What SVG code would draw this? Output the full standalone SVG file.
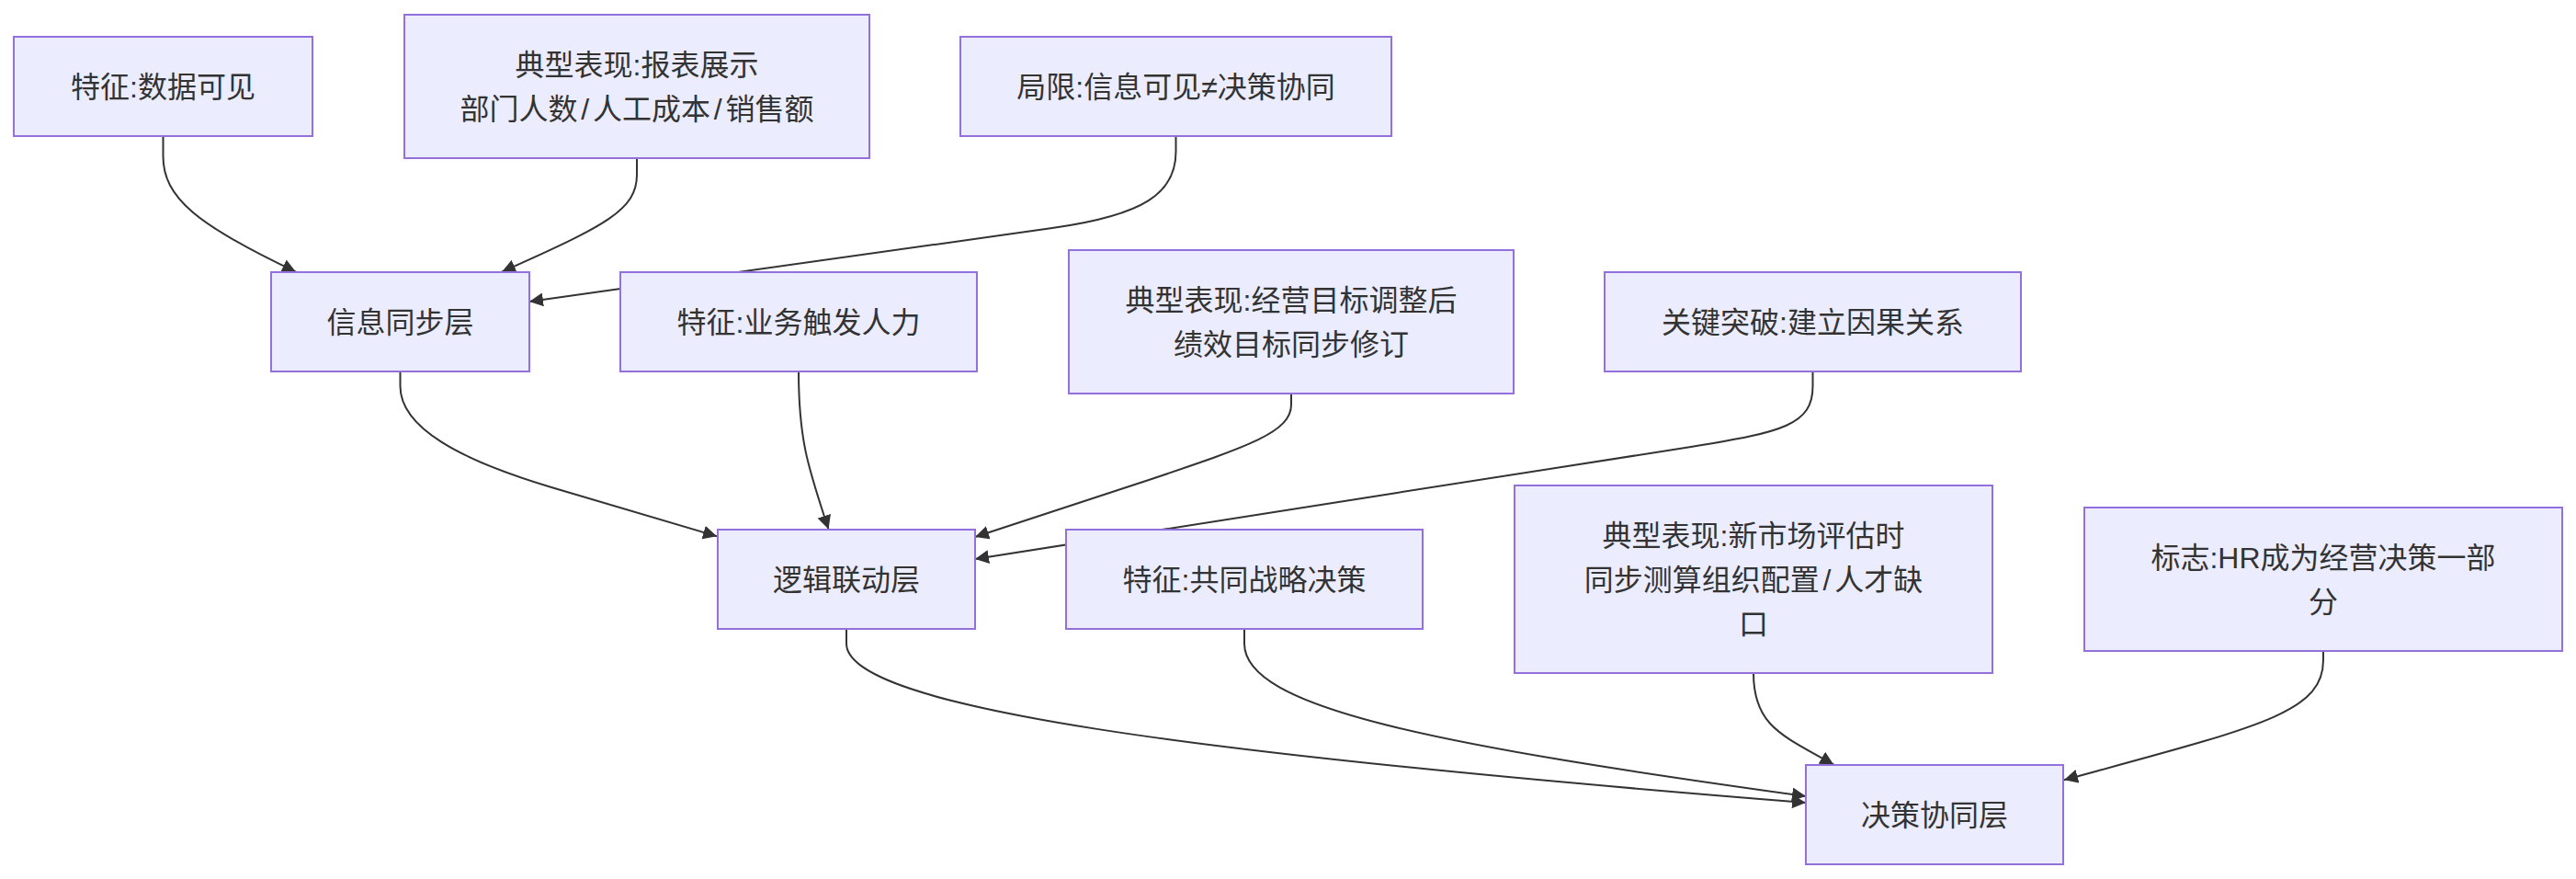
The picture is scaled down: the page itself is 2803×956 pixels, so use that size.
<svg xmlns="http://www.w3.org/2000/svg" width="2803" height="956" viewBox="0 0 2803 956">
<style>
.node rect{fill:#ECECFF;stroke:#9370DB;stroke-width:2}
.node text{font-family:"Liberation Sans","Noto Sans CJK SC",sans-serif;font-size:32px;fill:#333;text-anchor:middle}
.edge{fill:none;stroke:#333;stroke-width:2}
</style>
<defs>
<marker id="arrow" viewBox="0 0 10 10" refX="10" refY="5" markerUnits="userSpaceOnUse" markerWidth="15" markerHeight="15" orient="auto">
<path d="M0,0 L10,5 L0,10 z" fill="#333"/>
</marker>
</defs>
<rect width="2803" height="956" fill="#fff"/>
<g id="connectors">
<path class="edge" marker-end="url(#arrow)" d="M177.5,148 L177.5,170 C177.5,215 215,245 322,295.7"/>
<path class="edge" marker-end="url(#arrow)" d="M693,172 L693,190 C693,228 660,245 546,295.7"/>
<path class="edge" marker-end="url(#arrow)" d="M1279.5,148 L1279.5,165 C1279.5,210 1245,234 1145,248 L576,328"/>
<path class="edge" marker-end="url(#arrow)" d="M435.5,404 L435.5,420 C435.5,465 500,500 600,530 L780,583.3"/>
<path class="edge" marker-end="url(#arrow)" d="M869,404 C869,480 880,510 901.5,575.5"/>
<path class="edge" marker-end="url(#arrow)" d="M1405,428 L1405,440 C1405,470 1360,485 1250,522 L1061,584"/>
<path class="edge" marker-end="url(#arrow)" d="M1972.5,404 L1972.5,420 C1972.5,462 1940,470 1840,486 C1600,524 1200,585 1061,608"/>
<path class="edge" marker-end="url(#arrow)" d="M921,684 L921,700 C921,770 1300,820 1965,873"/>
<path class="edge" marker-end="url(#arrow)" d="M1354,684 L1354,700 C1354,770 1560,810 1965,866"/>
<path class="edge" marker-end="url(#arrow)" d="M1908,732 C1908,790 1940,800 1995.4,831.7"/>
<path class="edge" marker-end="url(#arrow)" d="M2528,708 L2528,718 C2528,775 2460,790 2246,848.3"/>
</g>
<g id="A" class="node"><rect x="15" y="40" width="325" height="108"/><text x="177.5" y="105.5">特征:数据可见</text></g>
<g id="B" class="node"><rect x="440" y="16" width="506" height="156"/><text x="693" y="81.5">典型表现:报表展示</text><text x="693" y="129.5">部门人数<tspan dx="3.8">/</tspan><tspan dx="3.8">人工成本</tspan><tspan dx="3.8">/</tspan><tspan dx="3.8">销售额</tspan></text></g>
<g id="C" class="node"><rect x="1045" y="40" width="469" height="108"/><text x="1279.5" y="105.5">局限:信息可见≠决策协同</text></g>
<g id="D" class="node"><rect x="295" y="296" width="281" height="108"/><text x="435.5" y="361.5">信息同步层</text></g>
<g id="E" class="node"><rect x="675" y="296" width="388" height="108"/><text x="869" y="361.5">特征:业务触发人力</text></g>
<g id="F" class="node"><rect x="1163" y="272" width="484" height="156"/><text x="1405" y="337.5">典型表现:经营目标调整后</text><text x="1405" y="385.5">绩效目标同步修订</text></g>
<g id="G" class="node"><rect x="1746" y="296" width="453" height="108"/><text x="1972.5" y="361.5">关键突破:建立因果关系</text></g>
<g id="H" class="node"><rect x="781" y="576" width="280" height="108"/><text x="921" y="641.5">逻辑联动层</text></g>
<g id="I" class="node"><rect x="1160" y="576" width="388" height="108"/><text x="1354" y="641.5">特征:共同战略决策</text></g>
<g id="J" class="node"><rect x="1648" y="528" width="520" height="204"/><text x="1908" y="593.5">典型表现:新市场评估时</text><text x="1908" y="641.5">同步测算组织配置<tspan dx="3.8">/</tspan><tspan dx="3.8">人才缺</tspan></text><text x="1908" y="689.5">口</text></g>
<g id="K" class="node"><rect x="2268" y="552" width="520" height="156"/><text x="2528" y="617.5">标志:HR成为经营决策一部</text><text x="2528" y="665.5">分</text></g>
<g id="L" class="node"><rect x="1965" y="832" width="280" height="108"/><text x="2105" y="897.5">决策协同层</text></g>
</svg>
